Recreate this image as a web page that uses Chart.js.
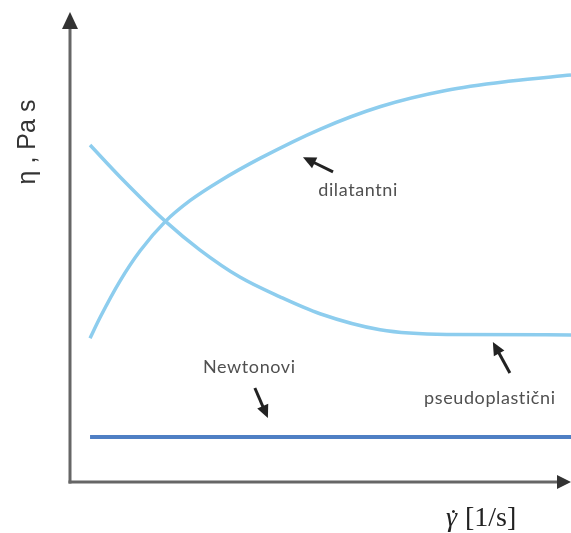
<!DOCTYPE html>
<html>
<head>
<meta charset="utf-8">
<script src="https://cdn.jsdelivr.net/npm/chart.js@4"></script>
<style>
  html, body { margin: 0; padding: 0; background: #fff; }
  #wrap { width: 571px; height: 533px; }
</style>
</head>
<body>
<div id="wrap"><canvas id="chart" width="571" height="533"></canvas></div>
<script>
// shear rate (arbitrary units, 0..100) and viscosity (arbitrary units, 0..100)
const dilatantX = [4.0, 6.0, 10.0, 14.0, 19.0, 24.0, 30.0, 38.0, 50.0, 62.0, 75.0, 88.0, 100];
const dilatantY = [30.6, 35.0, 42.8, 49.2, 55.4, 59.9, 64.1, 68.9, 75.1, 79.9, 83.3, 85.3, 86.6];

const pseudoX = [4.0, 10.0, 19.0, 25.9, 33.9, 41.9, 49.9, 61.9, 75.2, 100];
const pseudoY = [71.7, 64.9, 55.5, 49.4, 43.6, 39.4, 35.8, 32.4, 31.4, 31.3];

const newtonX = [4.0, 100];
const newtonY = [9.6, 9.6];

// labels with arrows: [text, labelX, labelY, arrowFromX, arrowFromY, arrowToX, arrowToY]
const notes = [
  ['dilatantni', 57.5, 62.1, 52.5, 66.0, 46.5, 69.1],
  ['Newtonovi', 35.8, 24.5, 36.9, 20.0, 39.5, 13.6],
  ['pseudoplastični', 83.8, 17.9, 87.8, 23.2, 84.4, 29.8]
];

const yTitle = 'η , Pa s';
const xSymbol = 'γ';
const xUnit = '[1/s]';

function toPoints(xs, ys) {
  return xs.map((x, i) => ({ x: x, y: ys[i] }));
}

function arrow(ctx, x1, y1, x2, y2, head, width) {
  const a = Math.atan2(y2 - y1, x2 - x1);
  ctx.beginPath();
  ctx.moveTo(x1, y1);
  ctx.lineTo(x2 - Math.cos(a) * head * 0.8, y2 - Math.sin(a) * head * 0.8);
  ctx.stroke();
  ctx.beginPath();
  ctx.moveTo(x2, y2);
  ctx.lineTo(x2 - head * Math.cos(a) + width * Math.sin(a), y2 - head * Math.sin(a) - width * Math.cos(a));
  ctx.lineTo(x2 - head * Math.cos(a) - width * Math.sin(a), y2 - head * Math.sin(a) + width * Math.cos(a));
  ctx.closePath();
  ctx.fill();
}

const decor = {
  id: 'decor',
  afterDraw(chart) {
    const ctx = chart.ctx;
    const area = chart.chartArea;
    const xs = chart.scales.x;
    const ys = chart.scales.y;
    ctx.save();

    // axes with arrows
    ctx.strokeStyle = '#666';
    ctx.fillStyle = '#333';
    ctx.lineWidth = 3;
    ctx.lineCap = 'butt';
    arrow(ctx, area.left, area.bottom + 1.5, area.left, area.top, 17, 8);
    arrow(ctx, area.left - 1.5, area.bottom, area.right, area.bottom, 14, 7);

    // axis titles
    ctx.fillStyle = '#333';
    ctx.save();
    ctx.translate(28, 142);
    ctx.rotate(-Math.PI / 2);
    ctx.font = '25px "Liberation Sans", Arial, sans-serif';
    ctx.textAlign = 'center';
    ctx.textBaseline = 'middle';
    ctx.fillText(yTitle, 0, 0);
    ctx.restore();

    ctx.fillStyle = '#222';
    ctx.textAlign = 'left';
    ctx.textBaseline = 'alphabetic';
    ctx.font = 'italic 28px "Liberation Serif", "Times New Roman", serif';
    ctx.fillText(xSymbol, 446, 526);
    ctx.fillText('\u02D9', 447, 528);
    ctx.font = '28px "Liberation Serif", "Times New Roman", serif';
    ctx.fillText(xUnit, 465, 526);

    // annotations
    ctx.font = '18px Lato, "Open Sans", sans-serif';
    ctx.letterSpacing = '0.6px';
    ctx.textAlign = 'center';
    ctx.textBaseline = 'middle';
    notes.forEach(n => {
      ctx.fillStyle = '#505050';
      ctx.fillText(n[0], xs.getPixelForValue(n[1]), ys.getPixelForValue(n[2]));
      ctx.strokeStyle = '#222';
      ctx.fillStyle = '#222';
      ctx.lineWidth = 3;
      arrow(ctx, xs.getPixelForValue(n[3]), ys.getPixelForValue(n[4]),
        xs.getPixelForValue(n[5]), ys.getPixelForValue(n[6]), 13, 6);
    });
    ctx.restore();
  }
};

new Chart(document.getElementById('chart'), {
  type: 'line',
  data: {
    datasets: [
      {
        label: 'dilatantni',
        data: toPoints(dilatantX, dilatantY),
        borderColor: '#8dcdee',
        borderWidth: 3.5,
        pointRadius: 0,
        cubicInterpolationMode: 'monotone'
      },
      {
        label: 'pseudoplastični',
        data: toPoints(pseudoX, pseudoY),
        borderColor: '#8dcdee',
        borderWidth: 3.5,
        pointRadius: 0,
        cubicInterpolationMode: 'monotone'
      },
      {
        label: 'Newtonovi',
        data: toPoints(newtonX, newtonY),
        borderColor: '#4f7fc4',
        borderWidth: 4,
        pointRadius: 0
      }
    ]
  },
  options: {
    responsive: false,
    animation: false,
    layout: { padding: { left: 70, right: 0, top: 12, bottom: 51 } },
    plugins: { legend: { display: false }, tooltip: { enabled: false } },
    scales: {
      x: { type: 'linear', min: 0, max: 100, display: false },
      y: { type: 'linear', min: 0, max: 100, display: false }
    }
  },
  plugins: [decor]
});
</script>
</body>
</html>
